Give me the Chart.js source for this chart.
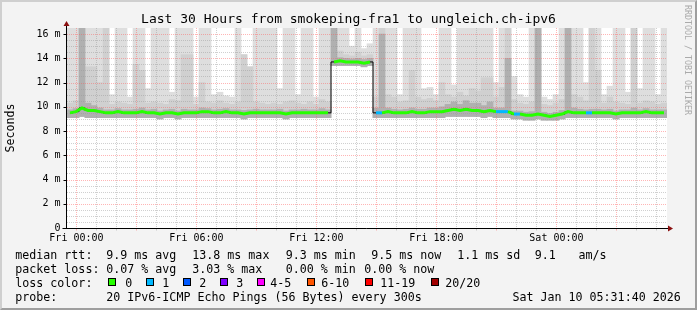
<!DOCTYPE html>
<html>
<head>
<meta charset="utf-8">
<script src="https://cdn.jsdelivr.net/npm/chart.js@4.4.1/dist/chart.umd.min.js"></script>
<style>
  html, body { margin: 0; padding: 0; background: #f3f3f3; }
  #graph { position: relative; width: 697px; height: 310px; background: #f3f3f3; overflow: hidden;
           font-family: 'DejaVu Sans Mono', monospace; color: #000; }
  #graph canvas { position: absolute; left: 0; top: 0; }
  .txt { position: absolute; white-space: pre; font-size: 11.65px; line-height: 14px; }
  #title { position: absolute; left: 0; width: 697px; top: 11px; text-align: center; font-size: 13px; line-height: 16px; white-space: pre; }
  #tag { position: absolute; left: 683px; top: 5px; writing-mode: vertical-rl; font-size: 8.3px; line-height: 9px; color: #aaa; white-space: pre; }
  .box { position: absolute; width: 8px; height: 8px; box-sizing: border-box; border: 1px solid #000; }
  #frame { position: absolute; left: 0; top: 0; width: 697px; height: 310px; box-sizing: border-box;
           border-style: solid; border-width: 2px; border-color: #cfcfcf #9e9e9e #9e9e9e #cfcfcf; }
</style>
</head>
<body>
<div id="graph">
  <canvas id="smokeChart" width="697" height="310" style="width:697px;height:310px"></canvas>
  <div id="title">Last 30 Hours from smokeping-fra1 to ungleich.ch-ipv6</div>
  <div id="tag">RRDTOOL / TOBI OETIKER</div>

  <span class="txt" style="left:15.3px;top:247.8px">median rtt:</span>
  <span class="txt" style="left:106.3px;top:247.8px">9.9 ms avg</span>
  <span class="txt" style="left:192.3px;top:247.8px">13.8 ms max</span>
  <span class="txt" style="left:285.8px;top:247.8px">9.3 ms min</span>
  <span class="txt" style="left:371.3px;top:247.8px">9.5 ms now</span>
  <span class="txt" style="left:457.3px;top:247.8px">1.1 ms sd</span>
  <span class="txt" style="left:534.8px;top:247.8px">9.1</span>
  <span class="txt" style="left:578.5px;top:247.8px">am/s</span>

  <span class="txt" style="left:15.3px;top:261.8px">packet loss:</span>
  <span class="txt" style="left:106.3px;top:261.8px">0.07 % avg</span>
  <span class="txt" style="left:192.3px;top:261.8px">3.03 % max</span>
  <span class="txt" style="left:285.8px;top:261.8px">0.00 % min</span>
  <span class="txt" style="left:364.3px;top:261.8px">0.00 % now</span>

  <span class="txt" style="left:15.3px;top:275.8px">loss color:</span>
  <div id="lossLegend"></div>

  <span class="txt" style="left:15.3px;top:289.5px">probe:</span>
  <span class="txt" style="left:106.3px;top:289.5px">20 IPv6-ICMP Echo Pings (56 Bytes) every 300s</span>
  <span class="txt" style="left:512.5px;top:289.5px">Sat Jan 10 05:31:40 2026</span>

  <div id="frame"></div>
</div>
<script>
// time axis: hours relative to Fri 00:00, window is Thu 23:31:40 .. Sat 05:31:40
const START_HOUR = -0.4722;
const END_HOUR = 29.5278;
const COL_HOURS = 0.3;   // one smoke column = 18 min

const xTickHours = [0, 6, 12, 18, 24];
const xTickLabels = ['Fri 00:00', 'Fri 06:00', 'Fri 12:00', 'Fri 18:00', 'Sat 00:00'];
const yTickValues = [0, 2, 4, 6, 8, 10, 12, 14, 16];
const yTickLabels = ['0', '2 m', '4 m', '6 m', '8 m', '10 m', '12 m', '14 m', '16 m'];

const lossLabels = ['0', '1', '2', '3', '4-5', '6-10', '11-19', '20/20'];
const lossColors = ['#26ff00', '#00b8ff', '#0059ff', '#7e00ff', '#ff00ff', '#ff5500', '#ff0000', '#a10000'];

// median rtt per column (ms)
const medianRtt = [
  9.5, 9.6, 9.9, 9.7, 9.7, 9.6, 9.5, 9.5, 9.6, 9.5,
  9.5, 9.5, 9.6, 9.5, 9.5, 9.4, 9.5, 9.5, 9.4, 9.5,
  9.5, 9.5, 9.6, 9.6, 9.5, 9.5, 9.6, 9.5, 9.5, 9.4,
  9.5, 9.5, 9.5, 9.5, 9.5, 9.5, 9.4, 9.5, 9.5, 9.5,
  9.5, 9.5, 9.5, 9.5, 13.7, 13.8, 13.7, 13.7, 13.7, 13.6,
  13.7, 9.5, 9.5, 9.6, 9.5, 9.5, 9.5, 9.6, 9.5, 9.5,
  9.6, 9.6, 9.6, 9.7, 9.8, 9.7, 9.8, 9.7, 9.7, 9.6,
  9.7, 9.6, 9.6, 9.6, 9.4, 9.4, 9.3, 9.3, 9.4, 9.3,
  9.2, 9.3, 9.4, 9.6, 9.5, 9.5, 9.5, 9.5, 9.5, 9.5,
  9.5, 9.4, 9.5, 9.5, 9.5, 9.5, 9.6, 9.5, 9.5, 9.5
];

// lost pings (of 20) per column
const lossCount = [
  0, 0, 0, 0, 0, 0, 0, 0, 0, 0,
  0, 0, 0, 0, 0, 0, 0, 0, 0, 0,
  0, 0, 0, 0, 0, 0, 0, 0, 0, 0,
  0, 0, 0, 0, 0, 0, 0, 0, 0, 0,
  0, 0, 0, 0, 0, 0, 0, 0, 0, 0,
  0, 0, 1, 0, 0, 0, 0, 0, 0, 0,
  0, 0, 0, 0, 0, 0, 0, 0, 0, 0,
  0, 0, 1, 1, 0, 1, 0, 0, 0, 0,
  0, 0, 0, 0, 0, 0, 0, 1, 0, 0,
  0, 0, 0, 0, 0, 0, 0, 0, 0, 0
];

// smoke: fastest ping per column
const minPing = [
  9.1, 9.1, 9.2, 9.1, 9.1, 9.1, 9.1, 9.1, 9.1, 9.1,
  9.1, 9.1, 9.1, 9.1, 9.1, 9.0, 9.1, 9.1, 9.0, 9.1,
  9.1, 9.1, 9.1, 9.1, 9.1, 9.1, 9.1, 9.1, 9.1, 9.0,
  9.1, 9.1, 9.1, 9.1, 9.1, 9.1, 9.0, 9.1, 9.1, 9.1,
  9.1, 9.1, 9.1, 9.1, 13.4, 13.4, 13.4, 13.4, 13.4, 13.3,
  13.4, 9.1, 9.1, 9.1, 9.1, 9.1, 9.1, 9.1, 9.1, 9.1,
  9.1, 9.1, 9.1, 9.2, 9.2, 9.2, 9.2, 9.2, 9.2, 9.1,
  9.2, 9.1, 9.1, 9.1, 9.0, 9.0, 8.9, 8.9, 9.0, 8.9,
  8.9, 8.9, 9.0, 9.1, 9.1, 9.1, 9.1, 9.1, 9.1, 9.1,
  9.1, 9.0, 9.1, 9.1, 9.1, 9.1, 9.1, 9.1, 9.1, 9.1
];

// smoke: band just around the median
const nearPing = [
  9.75, 9.85, 16.5, 10.3, 10.1, 9.9, 9.75, 9.75, 9.85, 9.75,
  9.75, 9.8, 9.9, 9.75, 9.8, 9.65, 9.75, 9.8, 9.65, 9.8,
  9.75, 9.75, 9.9, 9.85, 9.75, 9.8, 9.85, 9.75, 9.75, 9.7,
  9.75, 9.8, 9.75, 9.75, 9.75, 9.8, 9.65, 9.75, 9.75, 9.8,
  9.75, 9.75, 9.85, 9.75, 16.5, 14.05, 14.0, 13.95, 14.0, 13.9,
  14.0, 9.9, 16.0, 9.9, 9.8, 9.75, 9.8, 9.9, 9.8, 9.8,
  9.9, 9.9, 10.0, 10.2, 10.4, 10.2, 10.5, 10.3, 10.3, 10.1,
  10.4, 9.9, 9.9, 14.0, 9.65, 9.65, 9.55, 9.6, 16.5, 9.55,
  9.45, 9.55, 9.7, 16.5, 9.9, 9.8, 9.75, 9.8, 9.8, 9.75,
  9.8, 9.65, 9.75, 9.75, 9.9, 9.75, 9.85, 9.75, 9.75, 9.75
];

// smoke: upper spread
const upperPing = [
  10.3, 10.5, 16.5, 13.3, 13.3, 12.0, 16.5, 10.2, 10.4, 10.3,
  10.2, 13.5, 13.0, 10.3, 10.4, 10.3, 10.2, 10.6, 10.5, 14.3,
  14.3, 10.2, 12.0, 10.4, 10.3, 10.5, 10.3, 10.2, 10.4, 14.3,
  13.3, 10.4, 10.3, 10.2, 10.3, 10.2, 10.4, 10.5, 10.3, 10.2,
  10.4, 10.2, 10.6, 10.4, 16.5, 14.6, 14.3, 14.2, 14.5, 14.2,
  14.3, 10.8, 16.5, 11.0, 10.8, 10.4, 10.5, 13.0, 10.8, 10.6,
  10.7, 10.5, 12.0, 11.0, 10.8, 11.2, 10.9, 11.5, 11.3, 12.4,
  12.4, 10.8, 11.6, 16.5, 10.6, 10.3, 10.2, 10.4, 16.5, 10.2,
  10.1, 10.3, 10.6, 16.5, 11.0, 10.8, 10.5, 16.5, 13.0, 10.3,
  10.8, 10.4, 10.3, 10.2, 16.5, 10.3, 10.5, 10.4, 10.2, 10.3
];

// smoke: slowest ping per column (16.5 = off the top)
const maxPing = [
  16.5, 16.5, 16.5, 16.5, 16.5, 16.5, 16.5, 11.0, 16.5, 16.5,
  10.8, 16.5, 16.5, 11.5, 16.5, 16.5, 16.5, 11.2, 16.5, 16.5,
  16.5, 10.8, 16.5, 16.5, 11.0, 11.2, 10.9, 10.8, 16.5, 14.3,
  13.3, 16.5, 16.5, 16.5, 16.5, 11.5, 16.5, 16.5, 11.0, 16.5,
  16.5, 10.8, 16.5, 16.5, 16.5, 16.5, 16.5, 15.0, 16.5, 14.8,
  15.2, 16.5, 16.5, 16.5, 16.5, 11.0, 16.5, 16.5, 16.5, 11.5,
  11.6, 11.0, 16.5, 16.5, 11.8, 16.5, 16.5, 16.5, 16.5, 16.5,
  16.5, 12.0, 16.5, 16.5, 12.5, 11.0, 10.8, 16.5, 16.5, 10.8,
  10.6, 11.0, 16.5, 16.5, 16.5, 16.5, 12.0, 16.5, 16.5, 11.0,
  11.7, 16.5, 16.5, 11.2, 16.5, 11.5, 16.5, 16.5, 11.0, 16.5
];

// loss legend layout
const lossBoxX = [108, 145.5, 182.5, 219.5, 257, 307, 365, 430.5];
const lossLabelX = [125.3, 162.3, 199.3, 236.3, 270.3, 321.3, 380.3, 445.3];

function colHour(i) {
    return START_HOUR + (i + 0.5) * COL_HOURS;
}

function lossColorIndex(n) {
    if (n <= 3) return n;
    if (n <= 5) return 4;
    if (n <= 10) return 5;
    if (n <= 19) return 6;
    return 7;
}

// loss legend
const lossLegend = document.getElementById('lossLegend');
lossLabels.forEach((lab, i) => {
    lossLegend.innerHTML += `<div class="box" style="left:${lossBoxX[i]}px;top:278px;background:${lossColors[i]}"></div>` +
        `<span class="txt" style="left:${lossLabelX[i]}px;top:275.8px">${lab}</span>`;
});

function smokeLayer(hi, color) {
    return {
        type: 'bar',
        data: hi.map((v, i) => ({ x: colHour(i), y: [minPing[i], v] })),
        backgroundColor: color,
        borderWidth: 0,
        grouped: false,
        barPercentage: 1,
        categoryPercentage: 1
    };
}

function hline(ctx, a, py, color) {
    const y = Math.round(py) + 0.5;
    ctx.strokeStyle = color;
    ctx.beginPath();
    ctx.moveTo(a.left, y);
    ctx.lineTo(a.right, y);
    ctx.stroke();
}

function vline(ctx, a, px, color) {
    const x = Math.round(px) + 0.5;
    ctx.strokeStyle = color;
    ctx.beginPath();
    ctx.moveTo(x, a.top);
    ctx.lineTo(x, a.bottom);
    ctx.stroke();
}

const MINOR_GRID = 'rgba(150,150,150,0.45)';
const MAJOR_GRID = 'rgba(255,90,90,0.45)';

// rrdtool-like canvas, grid and axes
const rrdFrame = {
    id: 'rrdFrame',
    beforeDraw(chart) {
        const { ctx, chartArea: a } = chart;
        ctx.save();
        ctx.fillStyle = '#ffffff';
        ctx.fillRect(a.left, a.top, a.right - a.left, a.bottom - a.top);
        ctx.restore();
    },
    beforeDatasetDraw(chart, args) {
        if (args.index !== 1) return;
        const { ctx, chartArea: a, scales: { x, y } } = chart;
        ctx.save();
        ctx.lineWidth = 1;
        ctx.setLineDash([1, 1]);
        for (let v = 0.5; v < y.max; v += 0.5) {
            if (v % 2 === 0) continue;
            hline(ctx, a, y.getPixelForValue(v), MINOR_GRID);
        }
        for (let h = 0; h < END_HOUR; h++) {
            if (h % 3 === 0) continue;
            vline(ctx, a, x.getPixelForValue(h), MINOR_GRID);
        }
        for (let v = 2; v < y.max; v += 2) {
            hline(ctx, a, y.getPixelForValue(v), MAJOR_GRID);
        }
        for (let h = 0; h < END_HOUR; h += 3) {
            vline(ctx, a, x.getPixelForValue(h), MAJOR_GRID);
        }
        ctx.restore();
    },
    afterDraw(chart) {
        const { ctx, chartArea: a, scales: { x, y } } = chart;
        const by = Math.round(a.bottom) + 0.5;
        const lx = Math.round(a.left) - 0.5;
        ctx.save();
        ctx.lineWidth = 1;
        // hour ticks under the axis
        for (let h = 0; h < END_HOUR; h++) {
            const px = Math.round(x.getPixelForValue(h)) + 0.5;
            ctx.strokeStyle = h % 3 === 0 ? MAJOR_GRID : MINOR_GRID;
            ctx.beginPath();
            ctx.moveTo(px, by);
            ctx.lineTo(px, by + 2);
            ctx.stroke();
        }
        ctx.strokeStyle = '#000';
        // y ticks
        yTickValues.forEach(v => {
            const py = Math.round(y.getPixelForValue(v)) + 0.5;
            ctx.beginPath();
            ctx.moveTo(lx - 3, py);
            ctx.lineTo(lx, py);
            ctx.stroke();
        });
        // axis lines
        ctx.beginPath();
        ctx.moveTo(lx - 4, by);
        ctx.lineTo(a.right + 4, by);
        ctx.moveTo(lx, by);
        ctx.lineTo(lx, a.top - 4);
        ctx.stroke();
        // arrows
        ctx.fillStyle = '#8b1010';
        ctx.beginPath();
        ctx.moveTo(a.right + 1, by - 3);
        ctx.lineTo(a.right + 6, by);
        ctx.lineTo(a.right + 1, by + 3);
        ctx.closePath();
        ctx.fill();
        ctx.beginPath();
        ctx.moveTo(lx - 3, a.top - 2);
        ctx.lineTo(lx, a.top - 7);
        ctx.lineTo(lx + 3, a.top - 2);
        ctx.closePath();
        ctx.fill();
        ctx.restore();
    }
};

const monoFont = 'DejaVu Sans Mono';

new Chart(document.getElementById('smokeChart').getContext('2d'), {
    type: 'bar',
    data: {
        datasets: [
            {
                type: 'line',
                data: medianRtt.map((v, i) => ({ x: colHour(i), y: v })),
                borderColor: lossColors[0],
                borderWidth: 3,
                pointRadius: 0,
                segment: {
                    borderColor: c => Math.abs(c.p1.parsed.y - c.p0.parsed.y) > 1
                        ? 'rgba(0,0,0,0)'
                        : lossColors[lossColorIndex(lossCount[c.p1DataIndex])]
                }
            },
            {
                type: 'line',
                data: medianRtt.map((v, i) => ({ x: colHour(i), y: v })),
                borderColor: '#000',
                borderWidth: 1,
                pointRadius: 0,
                stepped: 'middle'
            },
            smokeLayer(nearPing, '#b0b0b0'),
            smokeLayer(upperPing, '#d0d0d0'),
            smokeLayer(maxPing, '#dedede')
        ]
    },
    options: {
        responsive: false,
        animation: false,
        devicePixelRatio: 1,
        layout: { padding: { top: 28, right: 30, bottom: 0, left: 0 } },
        plugins: {
            legend: { display: false },
            tooltip: { enabled: false }
        },
        scales: {
            x: {
                type: 'linear',
                min: START_HOUR,
                max: END_HOUR,
                offset: false,
                grid: { display: false, drawTicks: false },
                border: { display: false },
                afterFit: s => { s.height = 82; },
                afterBuildTicks: s => { s.ticks = xTickHours.map(v => ({ value: v })); },
                ticks: {
                    autoSkip: false,
                    maxRotation: 0,
                    padding: 4,
                    color: '#000',
                    font: { family: monoFont, size: 10 },
                    callback: (v, i) => xTickLabels[i]
                }
            },
            y: {
                min: 0,
                max: 16.5,
                grid: { display: false, drawTicks: false },
                border: { display: false },
                afterFit: s => { s.width = 67; },
                afterBuildTicks: s => { s.ticks = yTickValues.map(v => ({ value: v })); },
                ticks: {
                    padding: 6.5,
                    color: '#000',
                    font: { family: monoFont, size: 10 },
                    callback: (v, i) => yTickLabels[i]
                },
                title: {
                    display: true,
                    text: 'Seconds',
                    color: '#000',
                    font: { family: monoFont, size: 11.65 },
                    padding: { top: 4, bottom: 0 }
                }
            }
        }
    },
    plugins: [rrdFrame]
});
</script>
</body>
</html>
